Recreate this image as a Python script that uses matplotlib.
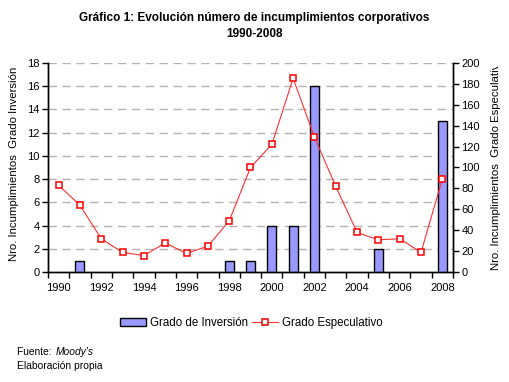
import matplotlib
matplotlib.use("Agg")
import matplotlib.pyplot as plt
from matplotlib.transforms import Bbox

plt.rcParams["font.family"] = ["Liberation Sans", "DejaVu Sans"]

years = list(range(1990, 2009))
grado_inversion = [0, 1, 0, 0, 0, 0, 0, 0, 1, 1, 4, 4, 16, 0, 0, 2, 0, 0, 13]
grado_especulativo = [83, 64, 32, 19, 16, 28, 18, 25, 49, 100, 122, 185, 129, 82, 38, 31, 32, 19, 89]
year_labels = [str(y) for y in years[::2]]

fig = plt.figure(figsize=(5.09, 3.82), dpi=100)
ax = fig.add_axes([48 / 509, 1 - 272.3 / 382, (453 - 48) / 509, (272.3 - 62.7) / 382])
ax2 = ax.twinx()

x = list(range(len(years)))
# years with no defaults get no bar at all (Excel draws nothing there)
bar_x = [i for i, v in zip(x, grado_inversion) if v > 0]
bar_h = [v for v in grado_inversion if v > 0]
ax.bar(bar_x, bar_h, width=0.42, color="#9999FF", edgecolor="black", linewidth=1.0,
       label="Grado de Inversión", zorder=3)
ax2.plot(x, grado_especulativo, color="#FF3030", linewidth=0.8, marker="s", markersize=4.6,
         markerfacecolor="white", markeredgecolor="red", markeredgewidth=1.1,
         label="Grado Especulativo", zorder=4)

ax.set_xlim(-0.5, len(years) - 0.5)
ax.set_ylim(0, 18)
ax.set_yticks(range(0, 19, 2))
ax2.set_ylim(0, 200)
ax2.set_yticks(range(0, 201, 20))

ax.set_xticks(x[::2])
ax.set_xticklabels(year_labels)
ax.set_xticks([i - 0.5 for i in range(len(years) + 1)], minor=True)
ax.tick_params(axis="x", which="major", length=0, pad=8, labelsize=8)
ax.tick_params(axis="x", which="minor", length=4, width=1, direction="out")
ax.tick_params(axis="y", length=4, width=1, direction="out", labelsize=8, pad=2)
ax2.tick_params(axis="y", length=4, width=1, direction="out", labelsize=8, pad=2)

for yv in range(2, 19, 2):
    ax.axhline(yv, color="#B8B0B0", linestyle=(0, (6, 4)), linewidth=1.0, zorder=1)

for a in (ax, ax2):
    a.spines["top"].set_visible(False)
    for s in ("left", "right", "bottom"):
        a.spines[s].set_linewidth(1.0)

# axis titles, clipped at the top like the original
clip = Bbox.from_extents(0, 0, 509, 382 - 67)
t1 = fig.text(14 / 509, 1 - 164 / 382, "Nro. Incumplimientos  Grado Inversión", rotation=90,
              ha="center", va="center", fontsize=8.2)
t1.set_clip_box(clip)
t1.set_clip_on(True)
t2 = fig.text(496 / 509, 1 - 164 / 382, "Nro. Incumplimientos  Grado Especulativo", rotation=90,
              ha="center", va="center", fontsize=8.2)
t2.set_clip_box(clip)
t2.set_clip_on(True)

fig.text(0.5, 1 - 26 / 382, "Gráfico 1: Evolución número de incumplimientos corporativos\n1990-2008",
         ha="center", va="center", fontsize=8.5, fontweight="bold", linespacing=1.4)

h1, l1 = ax.get_legend_handles_labels()
h2, l2 = ax2.get_legend_handles_labels()
fig.legend(h1 + h2, l1 + l2, loc="center", bbox_to_anchor=(0.494, 1 - 323 / 382), ncol=2,
           frameon=False, fontsize=8.3, handlelength=2.3, handleheight=0.6, columnspacing=0.3,
           handletextpad=0.35)

fig.text(17 / 509, 1 - 352 / 382, "Fuente: ", fontsize=7.4, va="center")
fig.text(56 / 509, 1 - 352 / 382, "Moody's", fontsize=7.4, va="center", style="italic")
fig.text(17 / 509, 1 - 366 / 382, "Elaboración propia", fontsize=7.4, va="center")

fig.savefig("out.png", dpi=100)
